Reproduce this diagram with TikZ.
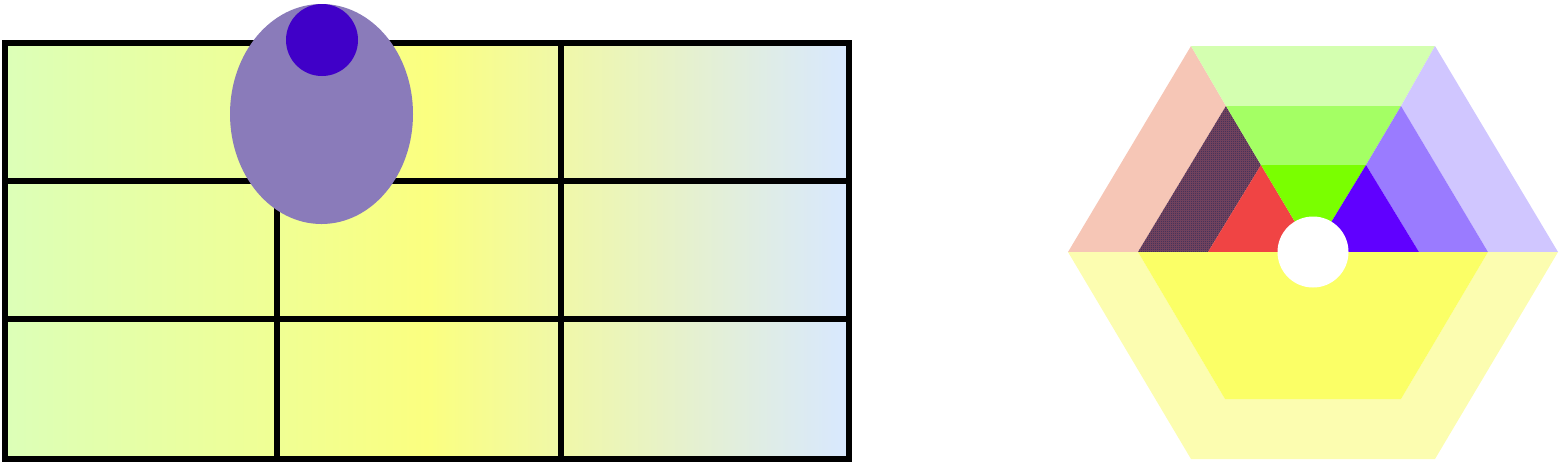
\documentclass[tikz,border=0pt]{standalone}
\usepackage{tikz}
\usetikzlibrary{patterns.meta}
\definecolor{cellgreen}{HTML}{DCFFB8}
\definecolor{cellyellow}{HTML}{FBFF80}
\definecolor{cellblue}{HTML}{D8E8FF}
\definecolor{eggouter}{HTML}{8A7BBA}
\definecolor{egginner}{HTML}{4000C8}
\definecolor{salmonpale}{HTML}{F6C6B6}
\definecolor{salmondot}{HTML}{F07064}
\definecolor{navydot}{HTML}{2C2A5A}
\definecolor{redinner}{HTML}{F04444}
\definecolor{greenpale}{HTML}{D4FFB0}
\definecolor{greenmid}{HTML}{A4FF64}
\definecolor{greeninner}{HTML}{7AFF00}
\definecolor{violetpale}{HTML}{D0C6FF}
\definecolor{violetmid}{HTML}{9A7BFF}
\definecolor{violetinner}{HTML}{6000FF}
\definecolor{yellowpale}{HTML}{FCFDB0}
\definecolor{yellowinner}{HTML}{FBFF66}
\pgfdeclarepattern{
  name=finechecker,
  type=uncolored,
  bottom left={\pgfpoint{0pt}{0pt}},
  top right={\pgfpoint{1.14pt}{1.14pt}},
  tile size={\pgfpoint{1.14pt}{1.14pt}},
  code={
    \pgfpathrectangle{\pgfpoint{0pt}{0pt}}{\pgfpoint{0.57pt}{0.57pt}}
    \pgfpathrectangle{\pgfpoint{0.57pt}{0.57pt}}{\pgfpoint{0.57pt}{0.57pt}}
    \pgfusepath{fill}
  }
}
\tikzstyle{gridline}=[line width=0.12cm,black,line cap=rect]
\begin{document}
\begin{tikzpicture}[x=0.02cm,y=-0.02cm]
    \useasboundingbox (0,0) rectangle (1565,464);

    % table of cells
    \shade[left color=cellgreen, right color=cellblue, middle color=cellyellow]
        (5,43) rectangle (849,459);
    \draw[gridline] (5,181) -- (849,181);
    \draw[gridline] (5,319) -- (849,319);
    \draw[gridline] (561,43) -- (561,459);
    \draw[gridline] (277,181) -- (277,459);
    \draw[gridline] (5,43) rectangle (849,459);

    \fill[eggouter] (321.5,114) ellipse [x radius=91.5, y radius=110];
    \fill[egginner] (322,40) circle [radius=36];

    % hexagon
    \coordinate (c) at (1313,252);
    \coordinate (l0) at (1068,252);
    \coordinate (tl0) at (1191,46);
    \coordinate (tr0) at (1435,46);
    \coordinate (r0) at (1558,252);
    \coordinate (br0) at (1435,459);
    \coordinate (bl0) at (1191,459);
    \coordinate (l1) at (1138,252);
    \coordinate (tl1) at (1226,106);
    \coordinate (tr1) at (1401,106);
    \coordinate (r1) at (1488,252);
    \coordinate (br1) at (1401,399);
    \coordinate (bl1) at (1225,399);
    \coordinate (l2) at (1208,252);
    \coordinate (tl2) at (1261,165);
    \coordinate (tr2) at (1366,165);
    \coordinate (r2) at (1419,252);

    \fill[salmonpale] (l0) -- (tl0) -- (tl1) -- (l1) -- cycle;
    \fill[greenpale] (tl0) -- (tr0) -- (tr1) -- (tl1) -- cycle;
    \fill[violetpale] (tr0) -- (r0) -- (r1) -- (tr1) -- cycle;
    \fill[navydot!60!salmondot] (l1) -- (tl1) -- (tl2) -- (l2) -- cycle;
    \fill[pattern=finechecker, pattern color=navydot]
        (l1) -- (tl1) -- (tl2) -- (l2) -- cycle;
    \fill[greenmid] (tl1) -- (tr1) -- (tr2) -- (tl2) -- cycle;
    \fill[violetmid] (tr1) -- (r1) -- (r2) -- (tr2) -- cycle;
    \fill[redinner] (l2) -- (tl2) -- (c) -- cycle;
    \fill[greeninner] (tl2) -- (tr2) -- (c) -- cycle;
    \fill[violetinner] (tr2) -- (r2) -- (c) -- cycle;
    \fill[yellowpale] (l0) -- (bl0) -- (br0) -- (r0) -- (r1) -- (br1)
        -- (bl1) -- (l1) -- cycle;
    \fill[yellowinner] (l1) -- (bl1) -- (br1) -- (r1) -- cycle;
    \fill[white] (c) circle [radius=35.5];
\end{tikzpicture}
\end{document}
